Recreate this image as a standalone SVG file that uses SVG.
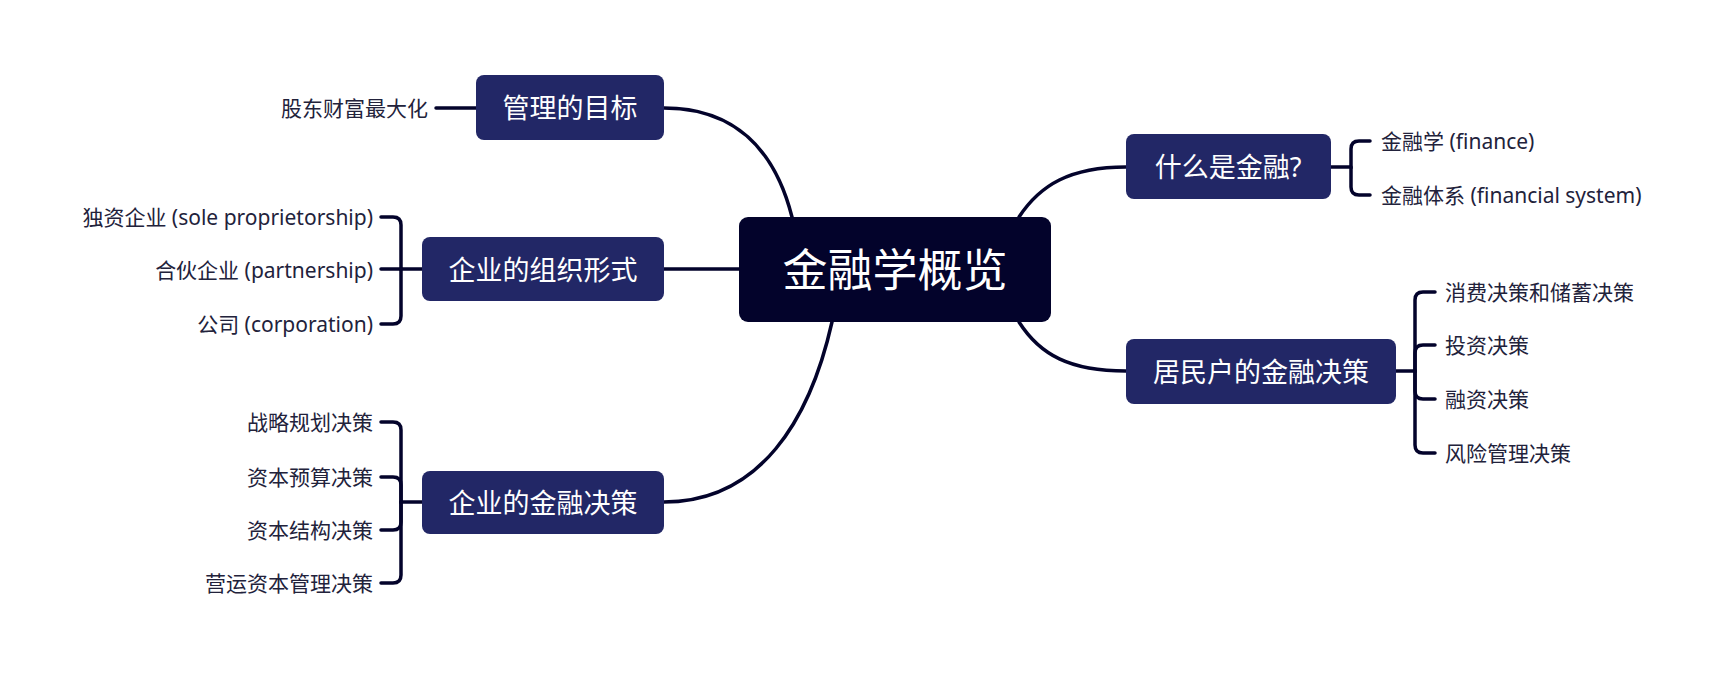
<svg xmlns="http://www.w3.org/2000/svg" width="1728" height="681" viewBox="0 0 1728 681">
<style>
.bg{fill:#ffffff}
.main rect{fill:#222766}
.main text{fill:#ffffff;font-family:"Noto Sans","Noto Sans CJK SC",sans-serif;font-size:27px;text-anchor:middle;dominant-baseline:central}
.root rect{fill:#03032b}
.root text{fill:#ffffff;font-family:"Noto Sans","Noto Sans CJK SC",sans-serif;font-size:45px;text-anchor:middle;dominant-baseline:central}
.leaf text{fill:#22223b;font-family:"Noto Sans","Noto Sans CJK SC",sans-serif;font-size:21px;dominant-baseline:central}
.l text{text-anchor:end}
.r text{text-anchor:start}
.conn path{fill:none;stroke:#03032b;stroke-width:3.5;stroke-linecap:round}
</style>
<rect class="bg" width="1728" height="681"/>
<g class="conn" id="connectors">
<path d="M664 108 C735 108 775 150 792 217"/>
<path d="M664 269 H739"/>
<path d="M664 502 C760 502 810 420 832 322"/>
<path d="M1019 217 C1040 185 1070 167 1126 167"/>
<path d="M1019 322 C1040 355 1070 371 1126 371"/>
<path d="M436 108 H476"/>
<path d="M422 269 H401 V225 Q401 217 393 217 H381"/>
<path d="M401 269 H381"/>
<path d="M401 269 V316 Q401 324 393 324 H381"/>
<path d="M422 502 H401 V430 Q401 422 393 422 H381"/>
<path d="M401 502 V485 Q401 477 393 477 H381"/>
<path d="M401 502 V522 Q401 530 393 530 H381"/>
<path d="M401 502 V575 Q401 583 393 583 H381"/>
<path d="M1331 167 H1351 V149 Q1351 141 1359 141 H1370"/>
<path d="M1351 167 V187 Q1351 195 1359 195 H1370"/>
<path d="M1396 371 H1415 V300 Q1415 292 1423 292 H1435"/>
<path d="M1415 371 V353 Q1415 345 1423 345 H1435"/>
<path d="M1415 371 V391 Q1415 399 1423 399 H1435"/>
<path d="M1415 371 V445 Q1415 453 1423 453 H1435"/>
</g>
<g id="root" class="root"><rect x="739" y="217" width="312" height="105" rx="9"/><text x="895" y="269">金融学概览</text></g>
<g id="n-goal" class="main"><rect x="476" y="75" width="188" height="65" rx="8"/><text x="570" y="107">管理的目标</text></g>
<g id="n-org" class="main"><rect x="422" y="237" width="242" height="64" rx="8"/><text x="543" y="269">企业的组织形式</text></g>
<g id="n-corpfin" class="main"><rect x="422" y="471" width="242" height="63" rx="8"/><text x="543" y="502">企业的金融决策</text></g>
<g id="n-what" class="main"><rect x="1126" y="134" width="205" height="65" rx="8"/><text x="1228" y="166">什么是金融?</text></g>
<g id="n-house" class="main"><rect x="1126" y="339" width="270" height="65" rx="8"/><text x="1261" y="371">居民户的金融决策</text></g>
<g id="leaf-goal" class="leaf l"><text x="428" y="108">股东财富最大化</text></g>
<g id="leaf-org1" class="leaf l"><text x="373" y="217">独资企业 (sole proprietorship)</text></g>
<g id="leaf-org2" class="leaf l"><text x="373" y="270">合伙企业 (partnership)</text></g>
<g id="leaf-org3" class="leaf l"><text x="373" y="324">公司 (corporation)</text></g>
<g id="leaf-cf1" class="leaf l"><text x="373" y="422">战略规划决策</text></g>
<g id="leaf-cf2" class="leaf l"><text x="373" y="477">资本预算决策</text></g>
<g id="leaf-cf3" class="leaf l"><text x="373" y="530">资本结构决策</text></g>
<g id="leaf-cf4" class="leaf l"><text x="373" y="583">营运资本管理决策</text></g>
<g id="leaf-w1" class="leaf r"><text x="1381" y="141">金融学 (finance)</text></g>
<g id="leaf-w2" class="leaf r"><text x="1381" y="195">金融体系 (financial system)</text></g>
<g id="leaf-h1" class="leaf r"><text x="1445" y="292">消费决策和储蓄决策</text></g>
<g id="leaf-h2" class="leaf r"><text x="1445" y="345">投资决策</text></g>
<g id="leaf-h3" class="leaf r"><text x="1445" y="399">融资决策</text></g>
<g id="leaf-h4" class="leaf r"><text x="1445" y="453">风险管理决策</text></g>
</svg>
